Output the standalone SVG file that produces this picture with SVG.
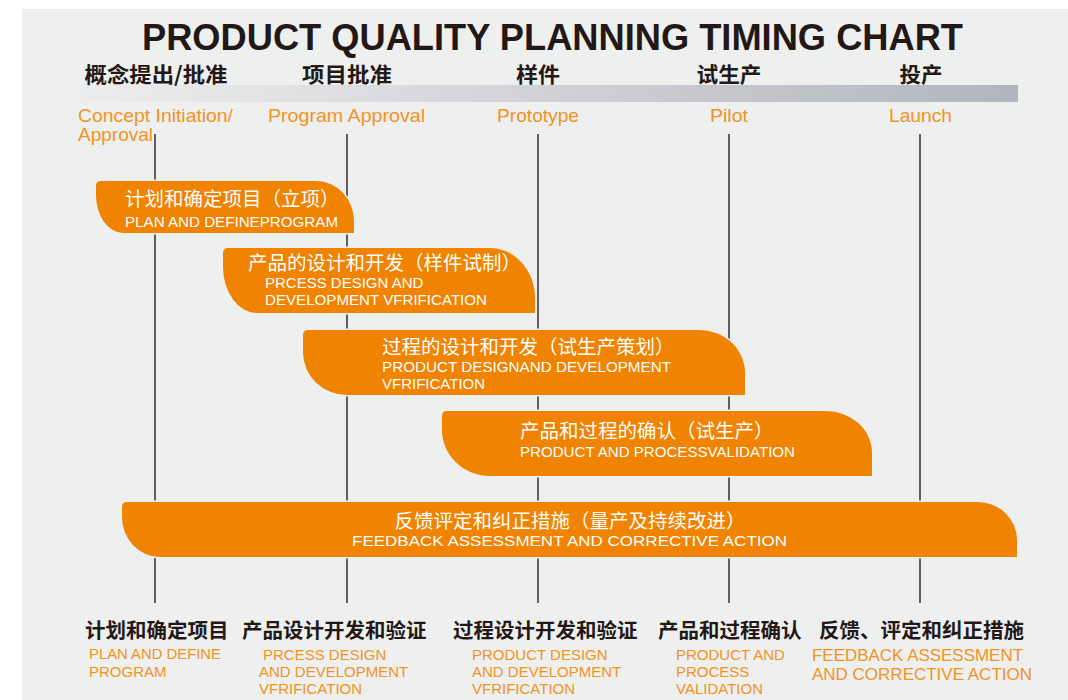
<svg xmlns="http://www.w3.org/2000/svg" width="1068" height="700" viewBox="0 0 1068 700">
<defs>
<linearGradient id="hdr" x1="0" y1="0" x2="1" y2="0">
<stop offset="0" stop-color="#eceeee"/>
<stop offset="1" stop-color="#b3b5bd"/>
</linearGradient>
<style>
.title{font-family:"Liberation Sans",Arial,sans-serif;font-weight:bold;fill:#231815}
.cnh{font-family:"Noto Sans CJK SC","Noto Sans CJK TC",sans-serif;font-weight:bold;fill:#231815}
.ms{font-family:"Liberation Sans",Arial,sans-serif;font-size:19px;fill:#f39322}
.bar{fill:#f08300;stroke:#eeefef;stroke-width:3;paint-order:stroke}
.bcn{font-family:"Noto Sans CJK SC","Noto Sans CJK TC",sans-serif;font-size:19.5px;fill:#ffffff}
.ben{font-family:"Liberation Sans",Arial,sans-serif;font-size:15px;fill:#ffffff}
.bot{font-family:"Liberation Sans",Arial,sans-serif;font-size:15px;fill:#f39322}
.bot2{font-family:"Liberation Sans",Arial,sans-serif;font-size:17px;fill:#f39322}
.vl{stroke:#3e3a39;stroke-width:1.6;fill:none}
</style>
</defs>
<rect x="0" y="0" width="1068" height="700" fill="#ffffff"/>
<rect x="22" y="9" width="1046" height="691" fill="#eeefef"/>
<text class="title" x="142" y="49.5" font-size="36" textLength="821" lengthAdjust="spacingAndGlyphs">PRODUCT QUALITY PLANNING TIMING CHART</text>
<rect x="78" y="85" width="940" height="17" fill="url(#hdr)"/>

<g id="connectors">
<line class="vl" x1="155" y1="134" x2="155" y2="603"/>
<line class="vl" x1="347" y1="134" x2="347" y2="603"/>
<line class="vl" x1="538" y1="134" x2="538" y2="603"/>
<line class="vl" x1="729" y1="134" x2="729" y2="603"/>
<line class="vl" x1="920" y1="134" x2="920" y2="603"/>
</g>

<g id="milestone-concept">
<text class="cnh" x="156" y="82" font-size="21" text-anchor="middle" textLength="143" lengthAdjust="spacingAndGlyphs">概念提出/批准</text>
<text class="ms" x="78" y="122" textLength="155" lengthAdjust="spacingAndGlyphs">Concept Initiation/</text>
<text class="ms" x="78" y="141" textLength="75" lengthAdjust="spacingAndGlyphs">Approval</text>
</g>
<g id="milestone-program">
<text class="cnh" x="347" y="82" font-size="21" text-anchor="middle" textLength="90" lengthAdjust="spacingAndGlyphs">项目批准</text>
<text class="ms" x="268" y="122" textLength="157" lengthAdjust="spacingAndGlyphs">Program Approval</text>
</g>
<g id="milestone-prototype">
<text class="cnh" x="538" y="82" font-size="21" text-anchor="middle" textLength="44" lengthAdjust="spacingAndGlyphs">样件</text>
<text class="ms" x="497" y="122" textLength="82" lengthAdjust="spacingAndGlyphs">Prototype</text>
</g>
<g id="milestone-pilot">
<text class="cnh" x="729" y="82" font-size="21" text-anchor="middle" textLength="65" lengthAdjust="spacingAndGlyphs">试生产</text>
<text class="ms" x="710" y="122" textLength="38" lengthAdjust="spacingAndGlyphs">Pilot</text>
</g>
<g id="milestone-launch">
<text class="cnh" x="921" y="82" font-size="21" text-anchor="middle" textLength="43" lengthAdjust="spacingAndGlyphs">投产</text>
<text class="ms" x="889" y="122" textLength="63" lengthAdjust="spacingAndGlyphs">Launch</text>
</g>

<g id="bar-plan">
<path class="bar" d="M96,186 Q96,181 101,181 H316 A38 40 0 0 1 354,221 V233 H123 A27 38 0 0 1 96,195 Z"/>
<text class="bcn" x="125" y="205.5">计划和确定项目（立项）</text>
<text class="ben" x="125" y="227" textLength="213" lengthAdjust="spacingAndGlyphs">PLAN AND DEFINEPROGRAM</text>
</g>
<g id="bar-product">
<path class="bar" d="M223,253 Q223,248 228,248 H490 A45 50 0 0 1 535,298 V313 H257 A34 46 0 0 1 223,267 Z"/>
<text class="bcn" x="248" y="270">产品的设计和开发（样件试制）</text>
<text class="ben" x="265" y="288.3">PRCESS DESIGN AND</text>
<text class="ben" x="265" y="305" textLength="222" lengthAdjust="spacingAndGlyphs">DEVELOPMENT VFRIFICATION</text>
</g>
<g id="bar-process">
<path class="bar" d="M303,335 Q303,330 308,330 H699 A46 43 0 0 1 745,373 V395 H347 A44 43 0 0 1 303,352 Z"/>
<text class="bcn" x="382" y="353.5">过程的设计和开发（试生产策划）</text>
<text class="ben" x="382" y="371.7" textLength="289" lengthAdjust="spacingAndGlyphs">PRODUCT DESIGNAND DEVELOPMENT</text>
<text class="ben" x="382" y="389">VFRIFICATION</text>
</g>
<g id="bar-validation">
<path class="bar" d="M442,416 Q442,411 447,411 H826 A46 42 0 0 1 872,453 V476 H490 A48 46 0 0 1 442,430 Z"/>
<text class="bcn" x="520" y="437.5">产品和过程的确认（试生产）</text>
<text class="ben" x="520" y="457.3" textLength="275" lengthAdjust="spacingAndGlyphs">PRODUCT AND PROCESSVALIDATION</text>
</g>
<g id="bar-feedback">
<path class="bar" d="M122,507 Q122,502 127,502 H978 A39 38 0 0 1 1017,540 V557 H160 A38 40 0 0 1 122,517 Z"/>
<text class="bcn" x="570" y="527.5" text-anchor="middle">反馈评定和纠正措施（量产及持续改进）</text>
<text class="ben" x="352" y="546" font-size="16" textLength="435" lengthAdjust="spacingAndGlyphs">FEEDBACK ASSESSMENT AND CORRECTIVE ACTION</text>
</g>

<g id="col-plan">
<text class="cnh" x="85" y="638" font-size="20.5">计划和确定项目</text>
<text class="bot" x="89" y="659" textLength="132" lengthAdjust="spacingAndGlyphs">PLAN AND DEFINE</text>
<text class="bot" x="89" y="676.7">PROGRAM</text>
</g>
<g id="col-product">
<text class="cnh" x="242" y="638" font-size="20.5">产品设计开发和验证</text>
<text class="bot" x="263" y="659.5">PRCESS DESIGN</text>
<text class="bot" x="259" y="676.7">AND DEVELOPMENT</text>
<text class="bot" x="259" y="694">VFRIFICATION</text>
</g>
<g id="col-process">
<text class="cnh" x="453" y="638" font-size="20.5">过程设计开发和验证</text>
<text class="bot" x="472" y="659.5">PRODUCT DESIGN</text>
<text class="bot" x="472" y="676.7">AND DEVELOPMENT</text>
<text class="bot" x="472" y="694">VFRIFICATION</text>
</g>
<g id="col-validation">
<text class="cnh" x="658" y="638" font-size="20.5">产品和过程确认</text>
<text class="bot" x="676" y="659.5">PRODUCT AND</text>
<text class="bot" x="676" y="676.7">PROCESS</text>
<text class="bot" x="676" y="694">VALIDATION</text>
</g>
<g id="col-feedback">
<text class="cnh" x="819" y="638" font-size="20.5">反馈、评定和纠正措施</text>
<text class="bot2" x="812" y="660.5" textLength="211" lengthAdjust="spacingAndGlyphs">FEEDBACK ASSESSMENT</text>
<text class="bot2" x="812" y="680" textLength="220" lengthAdjust="spacingAndGlyphs">AND CORRECTIVE ACTION</text>
</g>
</svg>
